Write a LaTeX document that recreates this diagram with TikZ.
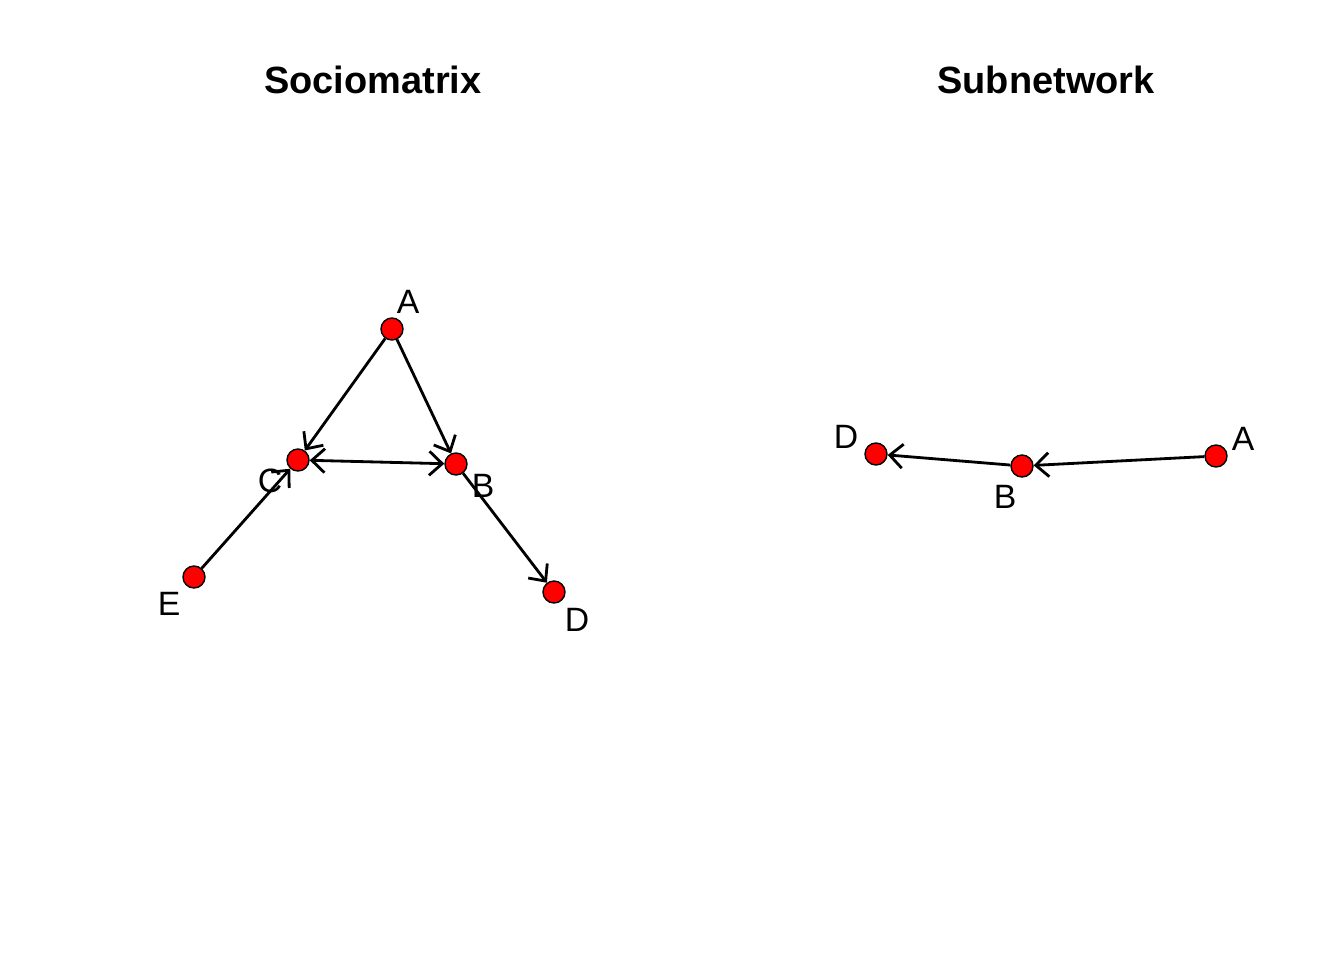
\documentclass[tikz,border=0pt]{standalone}
\usepackage{fontspec}
\setmainfont{Liberation Sans}
\usetikzlibrary{arrows.meta}

\begin{document}
\begin{tikzpicture}[x=0.1mm, y=-0.1mm,
		vee/.tip={Straight Barb[length=1.3mm, width=2.4mm, line width=0.8pt]},
		vertex/.style={circle, draw=black, fill=red, minimum size=2.2mm, inner sep=0pt, line width=0.4pt},
		edge/.style={line width=0.8pt, -vee},
		lbl/.style={inner sep=0pt, font=\fontsize{9.6}{11}\selectfont},
		ttl/.style={inner sep=0pt, font=\fontsize{10.8}{13}\selectfont\bfseries}]
					\useasboundingbox (0,0) rectangle (1344,960);
					\node[ttl] (t1) at (373,80) {Sociomatrix};
					\node[ttl] (t2) at (1046,80) {Subnetwork};
					
					% sociomatrix
					\foreach \n/\x/\y/\lx/\ly in {
						A/392/329/408/302,
						C/298/460/270/481,
						B/456/464/483/486,
						E/194/577/169/604,
						D/554/592/577/620
					}
					{
						\node[vertex] (s\n) at (\x,\y) {};
						\node[lbl] (ls\n) at (\lx,\ly) {\n};
					}
					\draw[edge] (sA) -- (sC);
					\draw[edge] (sA) -- (sB);
					\draw[edge, vee-vee] (sC) -- (sB);
					\draw[edge] (sE) -- (sC);
					\draw[edge] (sB) -- (sD);
					
					% subnetwork
					\foreach \n/\x/\y/\lx/\ly in {
						D/876/454/846/437,
						B/1022/466/1005/497,
						A/1216/456/1243/439
					}
					{
						\node[vertex] (n\n) at (\x,\y) {};
						\node[lbl] (ln\n) at (\lx,\ly) {\n};
					}
					\draw[edge] (nA) -- (nB);
					\draw[edge] (nB) -- (nD);
				\end{tikzpicture}
\end{document}
